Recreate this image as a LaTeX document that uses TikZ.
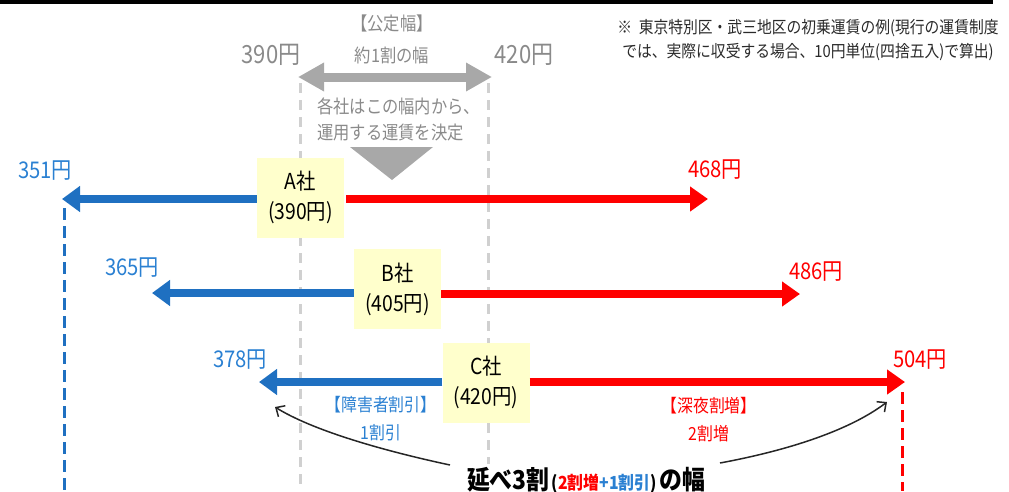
\documentclass[tikz,border=0pt]{standalone}
\usepackage{fontspec}
\setmainfont{Noto Sans CJK JP}
\newfontfamily\jp[FakeStretch=0.88]{Noto Sans CJK JP}
\usetikzlibrary{arrows.meta}
\definecolor{myblue}{HTML}{1F70C1}
\definecolor{tblue}{HTML}{2A80D2}
\definecolor{myred}{HTML}{FF0000}
\definecolor{gtext}{HTML}{8A8A8A}
\definecolor{garrow}{HTML}{A8A8A8}
\definecolor{gdash}{HTML}{D0D0D0}
\definecolor{boxy}{HTML}{FFFFCC}
\definecolor{notec}{HTML}{2A2A2A}
\tikzset{
  company/.style={fill=boxy, minimum width=87pt, minimum height=80pt, inner sep=0pt, align=center, font=\jp\fontsize{22}{30}\selectfont},
  price/.style={font=\jp\fontsize{23}{23}\selectfont, inner sep=0pt},
  blueprice/.style={price, text=tblue},
  redprice/.style={price, text=myred},
  bluearrow/.style={draw=myblue, line width=7.5pt, -{Triangle[length=18pt,width=25pt]}},
  redarrow/.style={draw=myred, line width=7.5pt, -{Triangle[length=18pt,width=24pt]}},
  graydash/.style={draw=gdash, line width=3pt, dash pattern=on 10pt off 7pt},
  bluedash/.style={draw=myblue, line width=3pt, dash pattern=on 12pt off 6pt},
  reddash/.style={draw=myred, line width=3pt, dash pattern=on 12pt off 6pt},
  curvearrow/.style={draw=black!85, line width=1.5pt, -{Straight Barb[length=7pt,width=13pt]}},
  graytxt/.style={text=gtext, inner sep=0pt},
  discount/.style={inner sep=0pt, align=center, font=\jp\fontsize{18}{28}\selectfont}
}
\begin{document}
\begin{tikzpicture}[x=1pt,y=-1pt]
\useasboundingbox (0,0) rectangle (1009,491);
\fill[black] (0,0) rectangle (993,4);

% gray dashed guides
\coordinate (g1t) at (300,83); \coordinate (g1b) at (300,491);
\coordinate (g2t) at (488,83); \coordinate (g2b) at (488,491);
\draw[graydash] (g1t) -- (g1b);
\draw[graydash] (g2t) -- (g2b);

% official range
\node[graytxt, font=\jp\fontsize{18.5}{18}\selectfont] (kt) at (392,23) {【公定幅】};
\node[graytxt, font=\jp\fontsize{18.5}{18}\selectfont] (kw) at (392,55) {約1割の幅};
\node[graytxt, font=\jp\fontsize{25}{25}\selectfont] (p390) at (271,55) {390円};
\node[graytxt, font=\jp\fontsize{25}{25}\selectfont] (p420) at (524,55) {420円};
\coordinate (gl) at (298,77); \coordinate (gr) at (492,77);
\draw[draw=garrow, line width=9pt, {Triangle[length=26pt,width=27pt]}-{Triangle[length=26pt,width=27pt]}] (gl) -- (gr);
\node[graytxt, anchor=west, align=left, font=\jp\fontsize{18.5}{26}\selectfont] (kd) at (317,119) {各社はこの幅内から、\\運用する運賃を決定};
\fill[garrow] (350,147) -- (433,147) -- (392,180) -- cycle;

% note
\node[text=notec, inner sep=0pt, align=center, font=\jp\fontsize{16.8}{24}\selectfont] (note) at (808,40)
  {※\ \ 東京特別区・武三地区の初乗運賃の例(現行の運賃制度\\では、実際に収受する場合、10円単位(四捨五入)で算出)};

% blue/red dashed
\coordinate (bdt) at (64,208); \coordinate (bdb) at (64,491);
\coordinate (rdt) at (902,392); \coordinate (rdb) at (902,491);
\draw[bluedash] (bdt) -- (bdb);
\draw[reddash] (rdt) -- (rdb);

% companies
\node[company] (A) at (300.5,197.5) {A社\\(390円)};
\node[company] (B) at (397.5,289) {B社\\(405円)};
\node[company] (C) at (486,382.5) {C社\\(420円)};

\coordinate (Al) at (62,199); \coordinate (Ar) at (708,199);
\coordinate (Bl) at (152,293); \coordinate (Br) at (800,294);
\coordinate (Cl) at (259,382); \coordinate (Cr) at (905,382);
\draw[bluearrow] (A.west |- Al) -- (Al);
\draw[redarrow] ([xshift=2pt]A.east |- Ar) -- (Ar);
\draw[bluearrow] (B.west |- Bl) -- (Bl);
\draw[redarrow] (B.east |- Br) -- (Br);
\draw[bluearrow] (C.west |- Cl) -- (Cl);
\draw[redarrow] (C.east |- Cr) -- (Cr);

\node[blueprice] (p351) at (45,171) {351円};
\node[redprice] (p468) at (715,170) {468円};
\node[blueprice] (p365) at (132,268) {365円};
\node[redprice] (p486) at (816,272) {486円};
\node[blueprice] (p378) at (240,360) {378円};
\node[redprice] (p504) at (920,360) {504円};

\node[discount, text=tblue] (dis) at (381,419) {【障害者割引】\\1割引};
\node[discount, text=myred] (nig) at (709,420) {【深夜割増】\\2割増};

% bottom label
\node[fill=white, inner sep=3pt] (lab) at (586,480)
  {{\jp\bfseries\fontsize{26}{26}\selectfont 延べ3割}\ {\jp\bfseries\fontsize{18}{18}\selectfont (\textcolor{myred}{2割増}\textcolor{tblue}{+1割引})}\ {\jp\bfseries\fontsize{26}{26}\selectfont の幅}};
\coordinate (cls) at (450,465); \coordinate (cle) at (275,407);
\coordinate (crs) at (720,463); \coordinate (cre) at (887,402);
\draw[curvearrow] (cls) .. controls (380,450) and (312,430) .. (cle);
\draw[curvearrow] (crs) .. controls (790,450) and (850,430) .. (cre);
\end{tikzpicture}
\end{document}
